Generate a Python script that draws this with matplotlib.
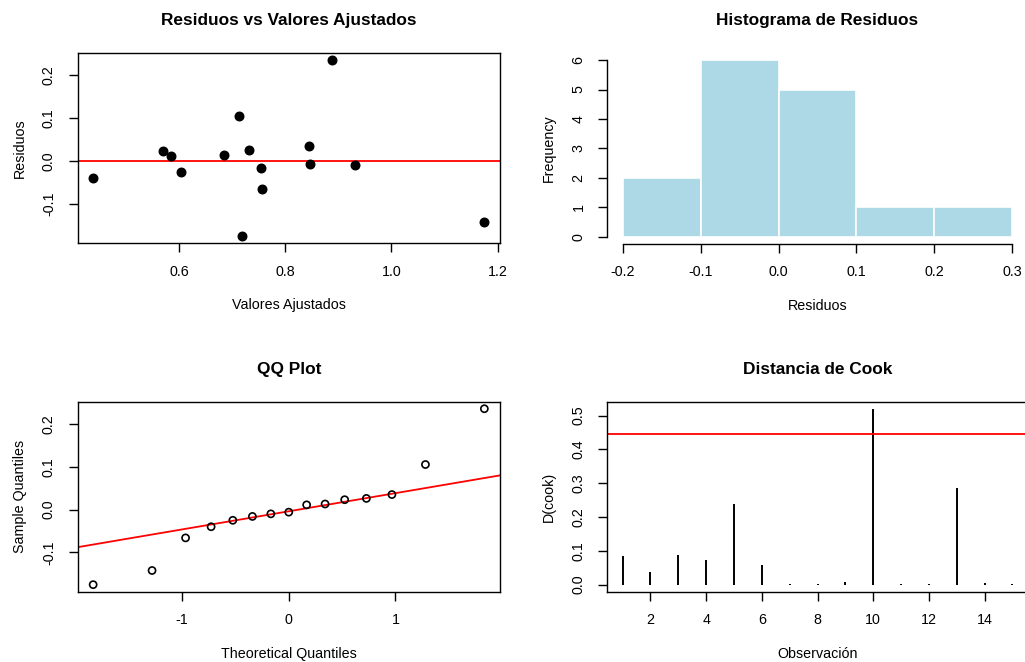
import matplotlib
matplotlib.use("Agg")
import matplotlib.pyplot as plt
from statistics import NormalDist

plt.rcParams['font.family'] = ['Liberation Sans', 'DejaVu Sans']
plt.rcParams['axes.unicode_minus'] = False

# ---- data ----
fitted = [0.438, 0.570, 0.584, 0.603, 0.685, 0.713, 0.718, 0.731,
          0.755, 0.756, 0.845, 0.846, 0.888, 0.931, 1.175]
residuals = [-0.040, 0.023, 0.011, -0.025, 0.013, 0.105, -0.175, 0.026,
             -0.016, -0.066, 0.035, -0.006, 0.235, -0.010, -0.142]
hist_breaks = [-0.2, -0.1, 0.0, 0.1, 0.2, 0.3]
observations = list(range(1, 16))
cooks_d = [0.086, 0.036, 0.088, 0.074, 0.238, 0.057, 0.002, 0.001,
           0.007, 0.520, 0.001, 0.001, 0.287, 0.006, 0.002]
cook_threshold = 0.444

W, H = 1025, 662
fig = plt.figure(figsize=(W / 100, H / 100), dpi=100)

def rect(l, t, r, b):
    return [l / W, 1 - b / H, (r - l) / W, (b - t) / H]

TICK_FS = 10.3
LAB_FS = 10.3
TITLE_FS = 12.4
TITLE_PAD = 20
XLAB_PAD = 14
YLAB_PAD = 11

def r_style(ax, box=True):
    ax.tick_params(direction='out', length=6.5, width=1, labelsize=TICK_FS, pad=9)
    for lab in ax.get_yticklabels():
        lab.set_rotation(90)
        lab.set_va('center')
    for s in ax.spines.values():
        s.set_linewidth(1)
        s.set_visible(box)

def r_limits(vals, frac=0.04):
    lo, hi = min(vals), max(vals)
    d = (hi - lo) * frac
    return lo - d, hi + d

# ---- Residuals vs fitted ----
ax1 = fig.add_axes(rect(77.5, 53, 500, 243.3))
ax1.scatter(fitted, residuals, s=38, color='black', zorder=3)
ax1.axhline(0, color='red', lw=1.3)
ax1.set_xlim(*r_limits(fitted))
ax1.set_ylim(*r_limits(residuals))
ax1.set_xticks([0.6, 0.8, 1.0, 1.2])
ax1.set_xticklabels(['0.6', '0.8', '1.0', '1.2'])
ax1.set_yticks([-0.1, 0.0, 0.1, 0.2])
ax1.set_yticklabels(['-0.1', '0.0', '0.1', '0.2'])
r_style(ax1)
ax1.set_title('Residuos vs Valores Ajustados', fontsize=TITLE_FS, fontweight='bold', pad=TITLE_PAD)
ax1.set_xlabel('Valores Ajustados', fontsize=LAB_FS, labelpad=XLAB_PAD)
ax1.set_ylabel('Residuos', fontsize=LAB_FS, labelpad=YLAB_PAD)

# ---- Histogram ----
ax2 = fig.add_axes(rect(607, 53, 1028, 243.8))
ax2.hist(residuals, bins=hist_breaks, color='lightblue', edgecolor='white', linewidth=1.2)
ax2.set_xlim(-0.22, 0.32)
ax2.set_ylim(-0.24, 6.24)
ax2.set_xticks(hist_breaks)
ax2.set_xticklabels(['-0.2', '-0.1', '0.0', '0.1', '0.2', '0.3'])
ax2.set_yticks(range(0, 7))
r_style(ax2, box=False)
ax2.spines['left'].set_visible(True)
ax2.spines['bottom'].set_visible(True)
ax2.spines['left'].set_bounds(0, 6)
ax2.spines['bottom'].set_bounds(-0.2, 0.3)
ax2.set_title('Histograma de Residuos', fontsize=TITLE_FS, fontweight='bold', pad=TITLE_PAD)
ax2.set_xlabel('Residuos', fontsize=LAB_FS, labelpad=XLAB_PAD)
ax2.set_ylabel('Frequency', fontsize=LAB_FS, labelpad=YLAB_PAD)

# ---- QQ plot ----
n = len(residuals)
sample_q = sorted(residuals)
a = 0.5 if n > 10 else 3 / 8
theo_q = [NormalDist().inv_cdf((i - a) / (n + 1 - 2 * a)) for i in range(1, n + 1)]

def quantile7(v, p):
    h = (len(v) - 1) * p
    lo = int(h)
    return v[lo] + (h - lo) * (v[min(lo + 1, len(v) - 1)] - v[lo])

q1, q3 = quantile7(sample_q, 0.25), quantile7(sample_q, 0.75)
z1, z3 = NormalDist().inv_cdf(0.25), NormalDist().inv_cdf(0.75)
slope = (q3 - q1) / (z3 - z1)
intercept = q1 - slope * z1

ax3 = fig.add_axes(rect(77.5, 401.7, 500, 591.7))
ax3.scatter(theo_q, sample_q, s=26, facecolors='none', edgecolors='black', linewidths=1.2, zorder=3)
ax3.axline((0, intercept), slope=slope, color='red', lw=1.3)
ax3.set_xlim(*r_limits(theo_q))
ax3.set_ylim(*r_limits(sample_q))
ax3.set_xticks([-1, 0, 1])
ax3.set_xticklabels(['-1', '0', '1'])
ax3.set_yticks([-0.1, 0.0, 0.1, 0.2])
ax3.set_yticklabels(['-0.1', '0.0', '0.1', '0.2'])
r_style(ax3)
ax3.set_title('QQ Plot', fontsize=TITLE_FS, fontweight='bold', pad=TITLE_PAD)
ax3.set_xlabel('Theoretical Quantiles', fontsize=LAB_FS, labelpad=XLAB_PAD)
ax3.set_ylabel('Sample Quantiles', fontsize=LAB_FS, labelpad=YLAB_PAD)

# ---- Cook's distance ----
ax4 = fig.add_axes(rect(607, 401.7, 1028, 591.7))
ax4.vlines(observations, 0, cooks_d, color='black', lw=1.4)
ax4.axhline(cook_threshold, color='red', lw=1.3)
ax4.set_xlim(*r_limits(observations))
ax4.set_ylim(*r_limits([0] + cooks_d))
ax4.set_xticks([2, 4, 6, 8, 10, 12, 14])
ax4.set_yticks([0.0, 0.1, 0.2, 0.3, 0.4, 0.5])
ax4.set_yticklabels(['0.0', '0.1', '0.2', '0.3', '0.4', '0.5'])
r_style(ax4)
ax4.set_title('Distancia de Cook', fontsize=TITLE_FS, fontweight='bold', pad=TITLE_PAD)
ax4.set_xlabel('Observación', fontsize=LAB_FS, labelpad=XLAB_PAD)
ax4.set_ylabel('D(cook)', fontsize=LAB_FS, labelpad=YLAB_PAD)

fig.savefig('out.png', dpi=100)
